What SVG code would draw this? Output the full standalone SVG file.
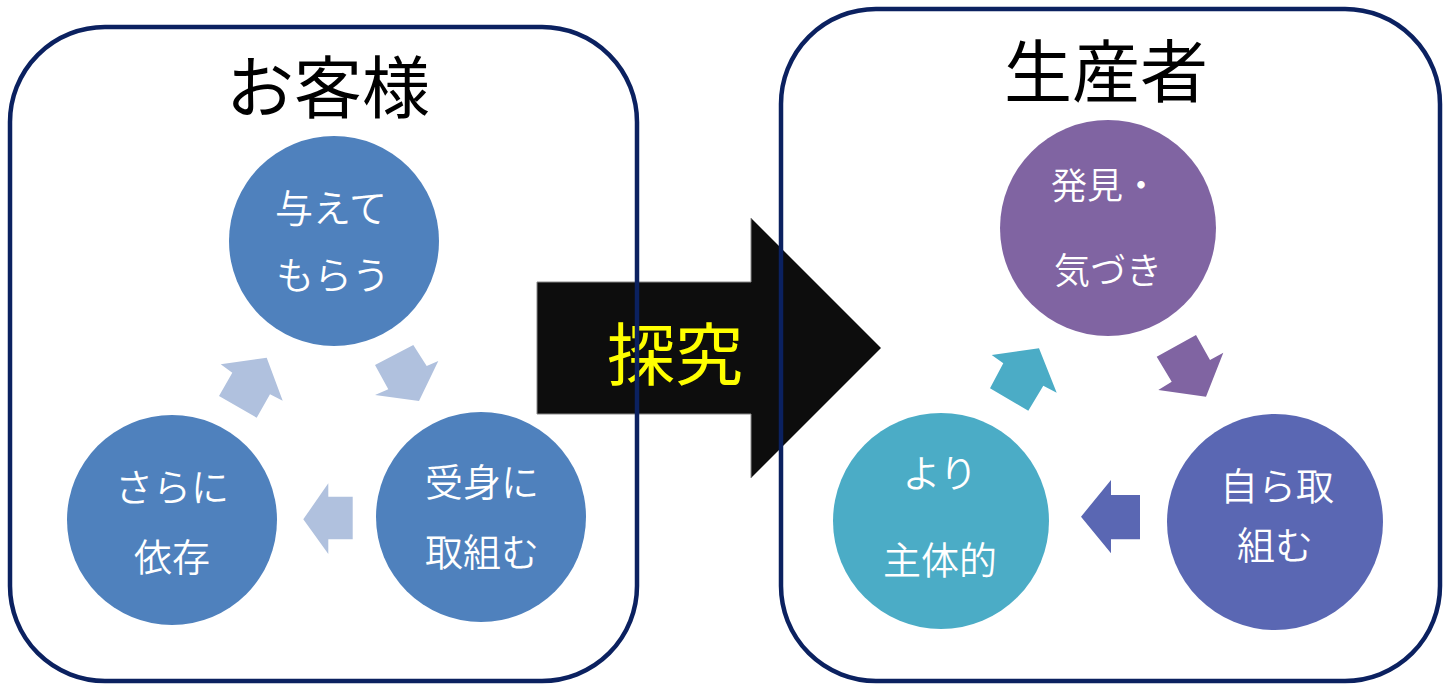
<svg xmlns="http://www.w3.org/2000/svg" width="1450" height="692" viewBox="0 0 1450 692">
<style>
.box{fill:none;stroke:#0B2160;stroke-width:4.5}
.title{font-family:"Noto Sans CJK JP","Noto Sans",sans-serif;font-size:68px;font-weight:400;fill:#000;text-anchor:middle}
.lbl{font-family:"Noto Sans CJK JP","Noto Sans",sans-serif;font-size:38px;font-weight:350;fill:#fff;text-anchor:middle}
.big{font-family:"Noto Sans CJK JP","Noto Sans",sans-serif;font-size:68px;fill:#FFFF00;text-anchor:middle}
</style>
<rect width="1450" height="692" fill="#fff"/>
<g id="big-arrow">
<polygon points="537,282 751,282 751,218 881,348 751,478 751,414 537,414" fill="#0D0D0D" stroke="#888" stroke-width="1"/>
<text class="big" x="675" y="380">探究</text>
</g>
<g id="box-customer">
<rect class="box" x="10" y="27" width="627" height="654" rx="95" ry="95"/>
<text class="title" x="328" y="113">お客様</text>
</g>
<g id="box-producer">
<rect class="box" x="781" y="9" width="659" height="672" rx="95" ry="95"/>
<text class="title" x="1106" y="97">生産者</text>
</g>
<g id="connectors">
<polygon points="220.7,364.3 266.7,357.7 282.7,400.7 270,394.3 256.7,417.7 219,396 232.3,372.7" fill="#B0C1DE"/>
<polygon points="375,365 413.3,345 426.7,366 438.3,361 419,401 375,395 388.3,389.3" fill="#B0C1DE"/>
<polygon points="352.7,496.7 328.3,496.7 328.3,483.3 303.3,519.3 328.3,554 328.3,539.3 352.7,539.3" fill="#B0C1DE"/>
<polygon points="991.7,355 1039,348.3 1056.7,392.7 1043.3,385.7 1028.3,410.7 990,388.3 1003.3,363.3" fill="#4BACC6"/>
<polygon points="1156.7,356.7 1196,335 1210,360 1223.3,352.7 1206,396.7 1158.3,390 1171.7,381.7" fill="#8064A2"/>
<polygon points="1140,495 1111,495 1111,480 1081,516.7 1111,553.3 1111,539.3 1140,539.3" fill="#5A67B3"/>
</g>
<g id="node-ataete">
<circle cx="334" cy="241" r="105" fill="#4F81BD"/>
<text class="lbl" x="331" y="222">与えて</text>
<text class="lbl" x="333" y="289">もらう</text>
</g>
<g id="node-ukemi">
<circle cx="481" cy="517" r="105" fill="#4F81BD"/>
<text class="lbl" x="482" y="496">受身に</text>
<text class="lbl" x="482" y="566">取組む</text>
</g>
<g id="node-izon">
<circle cx="172" cy="520" r="105" fill="#4F81BD"/>
<text class="lbl" x="172" y="501">さらに</text>
<text class="lbl" x="172" y="571">依存</text>
</g>
<g id="node-hakken">
<circle cx="1108" cy="228" r="108" fill="#8064A2"/>
<text class="lbl" x="1105" y="199" style="font-size:36px">発見・</text>
<text class="lbl" x="1108" y="284" style="font-size:36px">気づき</text>
</g>
<g id="node-mizukara">
<circle cx="1275" cy="522" r="108" fill="#5A67B3"/>
<text class="lbl" x="1277" y="500">自ら取</text>
<text class="lbl" x="1275" y="559">組む</text>
</g>
<g id="node-shutai">
<circle cx="941" cy="521" r="108" fill="#4BACC6"/>
<text class="lbl" x="940" y="487">より</text>
<text class="lbl" x="940" y="574">主体的</text>
</g>
</svg>
